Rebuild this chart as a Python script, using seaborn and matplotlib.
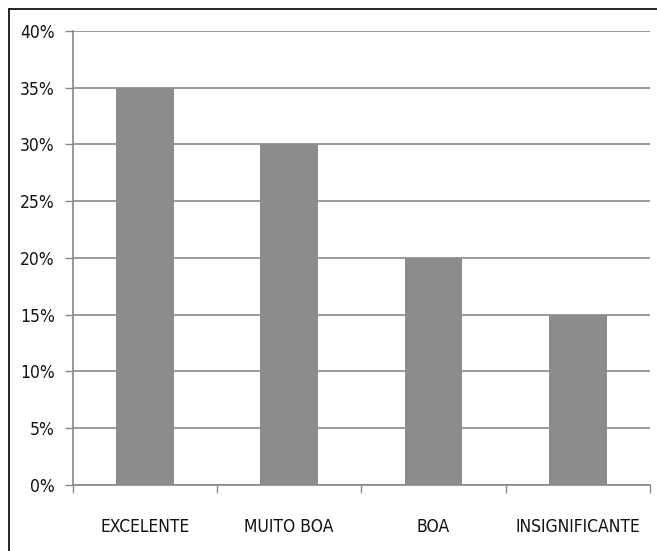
import matplotlib
matplotlib.use('Agg')
import matplotlib.pyplot as plt
from matplotlib.lines import Line2D
from matplotlib.ticker import FixedLocator, PercentFormatter
import seaborn as sns
import pandas as pd

categories = ["EXCELENTE", "MUITO BOA", "BOA", "INSIGNIFICANTE"]
values = [35, 30, 20, 15]
y_ticks = [0, 5, 10, 15, 20, 25, 30, 35, 40]

df_plot = pd.DataFrame({'Categoria': categories, 'Percentual': values})

sns.set_style('white')
plt.rcParams['font.family'] = ['Liberation Sans Narrow', 'DejaVu Sans']
plt.rcParams['font.stretch'] = 'condensed'

fig = plt.figure(figsize=(6.57, 5.51), dpi=100)
ax = fig.add_axes([0.111, 0.120, 0.878, 0.824])

sns.barplot(data=df_plot, x='Categoria', y='Percentual', color='#8c8c8c',
            width=0.4, saturation=1, linewidth=0, ax=ax, zorder=3)

ax.set_xlim(-0.5, len(categories) - 0.5)
ax.set_ylim(0, 40)
ax.set_yticks(y_ticks)
ax.yaxis.set_major_formatter(PercentFormatter(decimals=0))

# category boundary ticks like Excel
ax.xaxis.set_minor_locator(FixedLocator([i - 0.5 for i in range(len(categories) + 1)]))
ax.tick_params(axis='x', which='major', length=0, pad=24, labelsize=12.5, colors='#111111')
ax.tick_params(axis='x', which='minor', length=6, width=1, color='#888888', direction='out', bottom=True)
ax.tick_params(axis='y', length=6, width=1, color='#888888', direction='out', left=True,
               labelsize=12.5, labelcolor='#111111', pad=7)

ax.grid(axis='y', color='#8a8a8a', linewidth=1.2, zorder=0)
ax.set_axisbelow(True)

for side in ['top', 'right']:
    ax.spines[side].set_visible(False)
for side in ['left', 'bottom']:
    ax.spines[side].set_color('#888888')
    ax.spines[side].set_linewidth(1.2)

ax.set_xlabel('')
ax.set_ylabel('')

# partial frame around the picture (top and left edges)
fig.add_artist(Line2D([9 / 657, 1.0], [1 - 9 / 551, 1 - 9 / 551], color='black', linewidth=1.2, transform=fig.transFigure))
fig.add_artist(Line2D([9 / 657, 9 / 657], [0.0, 1 - 9 / 551], color='black', linewidth=1.2, transform=fig.transFigure))

plt.savefig('out.png', dpi=100)
